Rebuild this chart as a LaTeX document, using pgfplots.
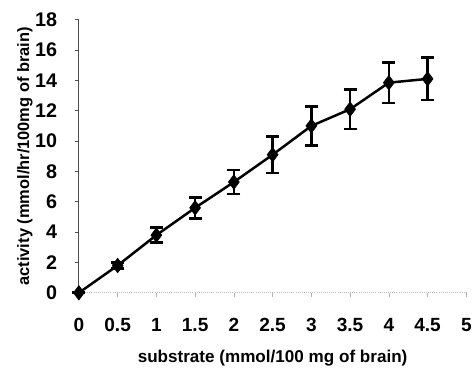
\documentclass[border=0pt]{standalone}
\usepackage{fontspec}
\setmainfont{Liberation Sans}
\usepackage{pgfplots}
\pgfplotsset{compat=1.18}
\begin{document}
\begin{tikzpicture}
\begin{axis}[
  scale only axis,
  width=294.75pt, height=207.75pt,
  xmin=0, xmax=5, ymin=0, ymax=18,
  axis lines=left,
  axis line style={-},
  x axis line style={draw=gray!55, densely dotted, line width=0.6pt},
  y axis line style={draw=black!70, line width=0.6pt},
  xtick={0,0.5,1,1.5,2,2.5,3,3.5,4,4.5,5},
  xticklabels={0,0.5,1,1.5,2,2.5,3,3.5,4,4.5,5},
  ytick={0,2,4,6,8,10,12,14,16,18},
  yticklabels={0,2,4,6,8,10,12,14,16,18},
  tick align=outside,
  major tick length=3pt,
  x tick style={draw=gray!60, line width=0.5pt},
  y tick style={draw=black!70, line width=0.6pt},
  xtick pos=bottom, ytick pos=left,
  xticklabel style={font=\fontsize{14.5}{16}\selectfont\bfseries, yshift=-13pt},
  yticklabel style={font=\fontsize{15}{17}\selectfont\bfseries, xshift=-10pt},
  xlabel={substrate (mmol/100 mg of brain)},
  ylabel={activity (mmol/hr/100mg of brain)},
  xlabel style={font=\fontsize{13}{15}\selectfont\bfseries, at={(axis description cs:0.5,0)}, anchor=center, yshift=-50pt},
  ylabel style={font=\fontsize{12.5}{15}\selectfont\bfseries, at={(axis description cs:0,0.5)}, anchor=center, yshift=41pt},
  clip=false,
]
\addplot[black, line width=1.9pt, mark=diamond*, mark size=5.5pt,
  mark options={solid, fill=black, line width=0.5pt},
  error bars/.cd, y dir=both, y explicit,
  error bar style={line width=2pt, black},
  error mark options={rotate=90, mark size=5pt, line width=2pt, black}]
coordinates {
  (0,0) +- (0,0)
  (0.5,1.8) +- (0,0.2)
  (1,3.8) +- (0,0.5)
  (1.5,5.6) +- (0,0.7)
  (2,7.3) +- (0,0.8)
  (2.5,9.1) +- (0,1.2)
  (3,11.0) +- (0,1.3)
  (3.5,12.1) +- (0,1.3)
  (4,13.85) +- (0,1.35)
  (4.5,14.1) +- (0,1.4)
};
\end{axis}
\path (current axis.south west) ++(-60pt,-56.25pt) rectangle ([shift={(2.25pt,15pt)}]current axis.north east);
\end{tikzpicture}
\end{document}
